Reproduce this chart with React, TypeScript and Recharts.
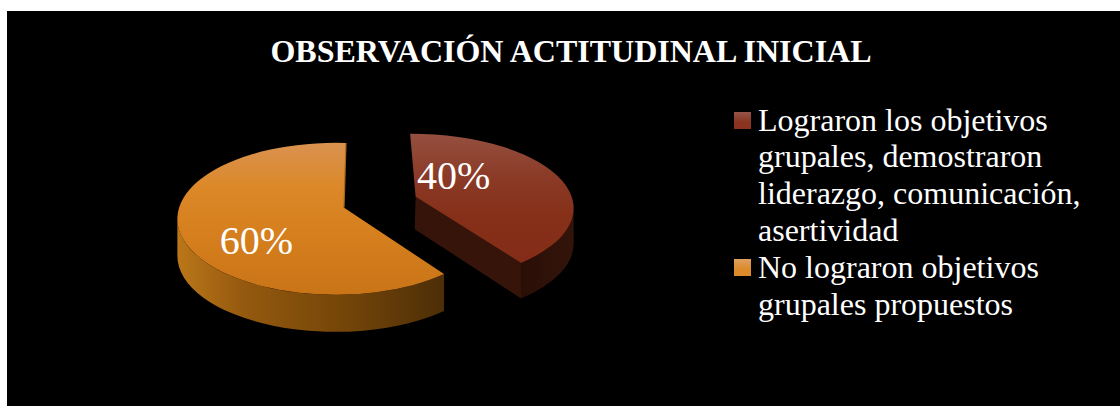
import { PieChart, Pie, Cell, Legend } from 'recharts'

const TITLE = 'OBSERVACIÓN ACTITUDINAL INICIAL'
const CATEGORIES = [
  'Lograron los objetivos grupales, demostraron liderazgo, comunicación, asertividad',
  'No lograron objetivos grupales propuestos',
]
const VALUES = [40, 60]
const TOP_COLORS = ['#873320', '#d9821f']

const DATA = CATEGORIES.map((name, i) => ({ name, value: VALUES[i] }))

const PIE_CX = 372.5
const PIE_CY = 191
const EXPLODE = 38
const APEX_DROP = 11.5
const SQUASH = 0.455
// the picture has some perspective, so the two sides are not quite the same ellipse
const RIGHT_SIDE = { rx: 163, ry: 74.5, shift: -5, lean: -0.04, depth: 35.5 }
const LEFT_SIDE = { rx: 158, ry: 76, shift: -8, lean: 0.015, depth: 37 }
const LABEL_OFFSETS = [{ x: 38, y: -8 }, { x: -87, y: 47 }]

const rad = (d: number) => (d * Math.PI) / 180

// ray from the apex to the rim, in unit-circle space, returns angle clockwise from top
function rimAngle(ax: number, ay: number, theta: number, lean: number) {
  const dx = Math.sin(rad(theta)) + lean * Math.max(Math.cos(rad(theta)), 0)
  const dy = -Math.cos(rad(theta))
  const len = Math.hypot(dx, dy)
  const ux = dx / len
  const uy = dy / len
  const b = ax * ux + ay * uy
  const t = -b + Math.sqrt(b * b - (ax * ax + ay * ay) + 1)
  return (Math.atan2(ax + t * ux, -(ay + t * uy)) * 180) / Math.PI
}

function Slice3D(props: any) {
  const { cx, cy, startAngle, endAngle, index } = props
  const t1 = 90 - startAngle
  const t2 = 90 - endAngle
  const mid = (t1 + t2) / 2
  const right = Math.sin(rad(mid)) > 0
  const { rx, ry, shift, lean, depth } = right ? RIGHT_SIDE : LEFT_SIDE
  const apexX = cx + EXPLODE * Math.sin(rad(mid))
  const apexY = cy - EXPLODE * SQUASH * Math.cos(rad(mid))
  const ex = apexX + shift
  const ey = apexY + APEX_DROP
  const ax = (apexX - ex) / rx
  const ay = (apexY - ey) / ry

  const p1 = rimAngle(ax, ay, t1, lean)
  let p2 = rimAngle(ax, ay, t2, lean)
  if (p2 <= p1 + 0.01) p2 += 360

  const pt = (p: number, dy = 0) => `${ex + rx * Math.sin(rad(p))} ${ey - ry * Math.cos(rad(p)) + dy}`
  const large = p2 - p1 > 180 ? 1 : 0
  const top = `M${apexX} ${apexY} L${pt(p1)} A${rx} ${ry} 0 ${large} 1 ${pt(p2)} Z`

  const w1 = Math.max(p1, 90)
  const w2 = Math.min(p2, 270)
  const wall =
    `M${pt(w1)} A${rx} ${ry} 0 0 1 ${pt(w2)} L${pt(w2, depth)} A${rx} ${ry} 0 0 0 ${pt(w1, depth)} Z`

  const isRed = index === 0
  const topId = `top${index}`
  const wallId = `wall${index}`
  const topStops = isRed
    ? [['0', '#95503f'], ['0.3', '#8a3a26'], ['0.55', '#863019'], ['1', '#822a16']]
    : [['0', '#d9924f'], ['0.3', '#dc8828'], ['0.6', '#d57f1e'], ['1', '#c97417']]
  const wallStops = isRed
    ? [['0', '#2a0f07'], ['1', '#33140a']]
    : [['0', '#bb7719'], ['0.25', '#94590f'], ['0.6', '#774709'], ['1', '#4d2e07']]
  return (
    <g>
      <defs>
        <linearGradient id={topId} gradientUnits="userSpaceOnUse" x1="0" x2="0" y1={ey - ry} y2={ey + ry}>
          {topStops.map(([o, c]) => <stop key={o} offset={o} stopColor={c} />)}
        </linearGradient>
        <linearGradient id={wallId} gradientUnits="userSpaceOnUse" x1={ex + rx * Math.sin(rad(w2))} x2={ex + rx * Math.sin(rad(w1))} y1="0" y2="0">
          {wallStops.map(([o, c]) => <stop key={o} offset={o} stopColor={c} />)}
        </linearGradient>
      </defs>
      {isRed && (
        <path d={`M${apexX} ${apexY} L${pt(p2)} L${pt(p2, depth)} L${apexX - 1} ${apexY + depth - 3} Z`} fill="#36140a" />
      )}
      <path d={wall} fill={`url(#${wallId})`} />
      {!isRed && <path d={`M${apexX} ${apexY} L${pt(p2)}`} stroke="#a8661c" strokeWidth={2.5} fill="none" />}
      <path d={top} fill={`url(#${topId})`} />
    </g>
  )
}

function renderLabel(props: any) {
  const off = LABEL_OFFSETS[props.index]
  const mid = props.midAngle
  const apexX = PIE_CX + EXPLODE * Math.cos(rad(mid))
  const apexY = PIE_CY - EXPLODE * SQUASH * Math.sin(rad(mid))
  return (
    <text x={apexX + off.x} y={apexY + off.y} fill="#fff" textAnchor="middle"
      fontFamily="'Liberation Serif', serif" fontSize={40}>
      {`${Math.round(props.percent * 100)}%`}
    </text>
  )
}

function LegendContent({ payload }: any) {
  return (
    <div style={{ fontFamily: "'Liberation Serif', serif", fontSize: 32, lineHeight: '36.9px', color: '#fff' }}>
      {(payload || []).map((p: any, i: number) => (
        <div key={p.value} style={{ position: 'relative', paddingLeft: 24 }}>
          <span style={{
            position: 'absolute', left: 0, top: 10, width: 17, height: 17,
            background: `linear-gradient(${i === 0 ? '#95564a, #8a3420 60%' : '#e0a060, #dc8a2a 60%'})`,
          }} />
          {p.value}
        </div>
      ))}
    </div>
  )
}

export default function App() {
  return (
    <div style={{ position: 'fixed', left: 0, top: 0, width: 1120, height: 406, background: '#fff', overflow: 'hidden' }}>
      <div style={{ position: 'absolute', left: 7, top: 11, width: 1113, height: 395, background: '#000' }}>
        <div style={{
          position: 'absolute', left: 0, top: 22, width: 1128, textAlign: 'center', color: '#fff',
          fontFamily: "'Liberation Serif', serif", fontWeight: 700, fontSize: 32, lineHeight: '37px',
        }}>
          {TITLE}
        </div>
        <PieChart width={1113} height={395} margin={{ top: 0, right: 0, bottom: 0, left: 0 }}>
          <Pie
            data={DATA}
            dataKey="value"
            nameKey="name"
            cx={PIE_CX}
            cy={PIE_CY}
            outerRadius={165}
            startAngle={90}
            endAngle={-270}
            stroke="none"
            label={renderLabel}
            labelLine={false}
            shape={Slice3D}
            isAnimationActive={false}
          >
            {DATA.map((d, i) => (
              <Cell key={d.name} fill={TOP_COLORS[i]} />
            ))}
          </Pie>
          <Legend
            layout="vertical"
            content={<LegendContent />}
            wrapperStyle={{ position: 'absolute', left: 727, top: 90.5, width: 366, bottom: 'auto' }}
          />
        </PieChart>
      </div>
    </div>
  )
}
